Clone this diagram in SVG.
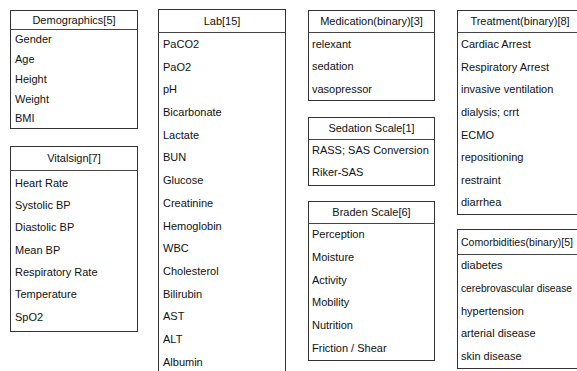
<svg xmlns="http://www.w3.org/2000/svg" width="577" height="371" viewBox="0 0 577 371">
<style>
.box{fill:#fff;stroke:#333;stroke-width:1}
.sep{stroke:#444;stroke-width:1}
text{font-family:"Liberation Sans",Arial,sans-serif;font-size:11px;fill:#111}
.h{text-anchor:middle}
</style>
<rect width="577" height="371" fill="#fff"/>
<g id="demographics">
<rect class="box" x="10.5" y="10.5" width="127" height="118"/>
<line class="sep" x1="10.5" y1="29.5" x2="137.5" y2="29.5"/>
<text class="h" x="74" y="24">Demographics[5]</text>
<text x="15" y="43">Gender</text>
<text x="15" y="63">Age</text>
<text x="15" y="83">Height</text>
<text x="15" y="103">Weight</text>
<text x="15" y="122">BMI</text>
</g>
<g id="vitalsign">
<rect class="box" x="10.5" y="146.5" width="127" height="185"/>
<line class="sep" x1="10.5" y1="170.5" x2="137.5" y2="170.5"/>
<text class="h" x="74" y="162">Vitalsign[7]</text>
<text x="15" y="187">Heart Rate</text>
<text x="15" y="209">Systolic BP</text>
<text x="15" y="231">Diastolic BP</text>
<text x="15" y="254">Mean BP</text>
<text x="15" y="276">Respiratory Rate</text>
<text x="15" y="298">Temperature</text>
<text x="15" y="321">SpO2</text>
</g>
<g id="lab">
<rect class="box" x="158.5" y="9.5" width="127" height="370"/>
<line class="sep" x1="158.5" y1="32.5" x2="285.5" y2="32.5"/>
<text class="h" x="222" y="25">Lab[15]</text>
<text x="163" y="48">PaCO2</text>
<text x="163" y="71">PaO2</text>
<text x="163" y="93">pH</text>
<text x="163" y="116">Bicarbonate</text>
<text x="163" y="139">Lactate</text>
<text x="163" y="161">BUN</text>
<text x="163" y="184">Glucose</text>
<text x="163" y="207">Creatinine</text>
<text x="163" y="230">Hemoglobin</text>
<text x="163" y="252">WBC</text>
<text x="163" y="275">Cholesterol</text>
<text x="163" y="298">Bilirubin</text>
<text x="163" y="320">AST</text>
<text x="163" y="343">ALT</text>
<text x="163" y="366">Albumin</text>
</g>
<g id="medication">
<rect class="box" x="308.5" y="10.5" width="126" height="90"/>
<line class="sep" x1="308.5" y1="32.5" x2="434.5" y2="32.5"/>
<text class="h" x="371.5" y="25">Medication(binary)[3]</text>
<text x="312" y="48">relexant</text>
<text x="312" y="70">sedation</text>
<text x="312" y="93">vasopressor</text>
</g>
<g id="sedation">
<rect class="box" x="308.5" y="117.5" width="126" height="68"/>
<line class="sep" x1="308.5" y1="139.5" x2="434.5" y2="139.5"/>
<text class="h" x="371.5" y="132">Sedation Scale[1]</text>
<text x="312" y="154">RASS; SAS Conversion</text>
<text x="312" y="176">Riker-SAS</text>
</g>
<g id="braden">
<rect class="box" x="308.5" y="201.5" width="126" height="159"/>
<line class="sep" x1="308.5" y1="223.5" x2="434.5" y2="223.5"/>
<text class="h" x="371.5" y="216">Braden Scale[6]</text>
<text x="312" y="238">Perception</text>
<text x="312" y="261">Moisture</text>
<text x="312" y="284">Activity</text>
<text x="312" y="306">Mobility</text>
<text x="312" y="329">Nutrition</text>
<text x="312" y="352">Friction / Shear</text>
</g>
<g id="treatment">
<rect class="box" x="457.5" y="10.5" width="127" height="204"/>
<line class="sep" x1="457.5" y1="32.5" x2="584.5" y2="32.5"/>
<text class="h" x="520" y="25">Treatment(binary)[8]</text>
<text x="461" y="48">Cardiac Arrest</text>
<text x="461" y="71">Respiratory Arrest</text>
<text x="461" y="93">invasive ventilation</text>
<text x="461" y="116">dialysis; crrt</text>
<text x="461" y="139">ECMO</text>
<text x="461" y="161">repositioning</text>
<text x="461" y="184">restraint</text>
<text x="461" y="206">diarrhea</text>
</g>
<g id="comorbidities">
<rect class="box" x="457.5" y="229.5" width="127" height="139"/>
<line class="sep" x1="457.5" y1="254.5" x2="584.5" y2="254.5"/>
<text x="461" y="246" textLength="112" lengthAdjust="spacingAndGlyphs">Comorbidities(binary)[5]</text>
<text x="461" y="269">diabetes</text>
<text x="461" y="292" textLength="111" lengthAdjust="spacingAndGlyphs">cerebrovascular disease</text>
<text x="461" y="315">hypertension</text>
<text x="461" y="337">arterial disease</text>
<text x="461" y="360">skin disease</text>
</g>
</svg>
